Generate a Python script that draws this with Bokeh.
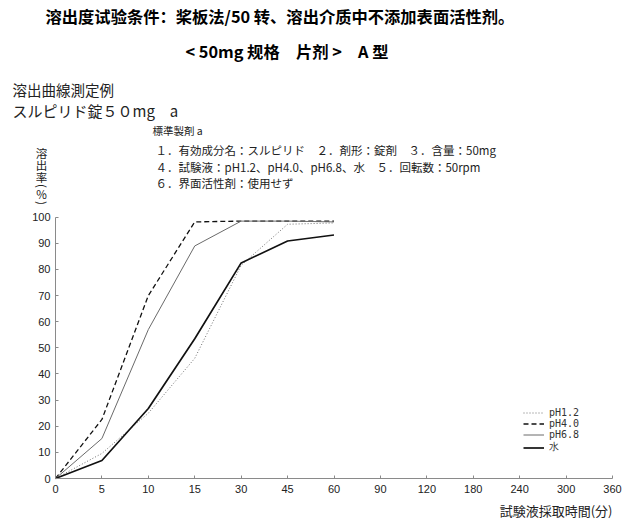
import math
from bokeh.plotting import figure
from bokeh.models import Range1d, FixedTicker, Label, Legend, LegendItem
from bokeh.embed import file_html
from bokeh.resources import INLINE

# ---- data ----
tick_times = [0, 5, 10, 15, 30, 45, 60, 90, 120, 180, 240, 300, 360]
times = [0, 5, 10, 15, 30, 45, 60]
ph12 = [0, 9.6, 25, 46, 81.6, 97.3, 97.8]
ph40 = [0, 22.6, 70, 98.2, 98.5, 98.5, 98.5]
ph68 = [0, 15.3, 57, 89, 98.5, 98.5, 98.2]
water = [0, 6.9, 26.8, 53.5, 82.5, 90.9, 93.2]
series_names = ["pH1.2", "pH4.0", "pH6.8", "水"]
y_ticks = [0, 10, 20, 30, 40, 50, 60, 70, 80, 90, 100]

xpos = [tick_times.index(t) for t in times]

W, H = 632, 524
AX_L, AX_R, AX_B, AX_T = 55.0, 612.0, 478.0, 216.7   # pixel positions of the axes box
nx = len(tick_times) - 1
xs = (AX_R - AX_L) / nx
ys = (AX_B - AX_T) / 100.0

p = figure(width=W, height=H, output_backend="svg", toolbar_location=None,
           x_range=Range1d(-AX_L / xs, (W - AX_L) / xs),
           y_range=Range1d(-(H - AX_B) / ys, AX_B / ys),
           min_border=0)
p.outline_line_color = None
p.xgrid.visible = False
p.ygrid.visible = False
p.background_fill_color = "white"
p.border_fill_color = "white"

p.xaxis.fixed_location = 0
p.yaxis.fixed_location = 0
p.xaxis.bounds = (0, nx)
p.yaxis.bounds = (0, 100)
p.xaxis.ticker = FixedTicker(ticks=list(range(nx + 1)))
p.xaxis.major_label_overrides = {i: str(t) for i, t in enumerate(tick_times)}
p.yaxis.ticker = FixedTicker(ticks=y_ticks)
for ax in (p.xaxis, p.yaxis):
    ax.axis_line_color = "#8a8a8a"
    ax.major_tick_line_color = "#8a8a8a"
    ax.major_tick_in = 3
    ax.major_tick_out = 0
    ax.minor_tick_line_color = None
    ax.major_label_text_font = "Liberation Sans"
    ax.major_label_text_font_size = "11px"
    ax.major_label_text_color = "#222222"
p.yaxis.major_label_standoff = 5
p.xaxis.major_label_standoff = 6

r1 = p.line(xpos, ph12, line_color="#707070", line_width=1, line_dash="1 2")
r2 = p.line(xpos, ph40, line_color="#111111", line_width=1.3, line_dash="5 3")
r3 = p.line(xpos, ph68, line_color="#6a6a6a", line_width=1)
r4 = p.line(xpos, water, line_color="#111111", line_width=1.7)

legend = Legend(items=[LegendItem(label=n, renderers=[r]) for n, r in zip(series_names, [r1, r2, r3, r4])],
                location=(523, H - 454), padding=0, margin=0, spacing=0,
                label_height=11, glyph_height=11, glyph_width=21, label_standoff=5,
                label_text_font="DejaVu Sans Mono", label_text_font_size="10px",
                label_text_color="#333333", label_text_line_height=1.0,
                background_fill_alpha=0, border_line_color=None)
p.add_layout(legend)

def lab(text, px, py, size, font="Noto Sans CJK JP", style="normal", align="left",
        color="#222222", angle=0.0):
    p.add_layout(Label(x=px, y=H - py, x_units="screen", y_units="screen", text=text,
                       text_font=font, text_font_size=size, text_font_style=style,
                       text_align=align, text_baseline="middle", text_color=color,
                       angle=angle))

lab("溶出度试验条件：桨板法/50 转、溶出介质中不添加表面活性剂。", 45, 15, "16.3px",
    font="Noto Sans CJK SC", style="bold", color="black")
lab("< 50mg 规格　片剂 >　A 型", 185, 50, "16.3px",
    font="Noto Sans CJK SC", style="bold", color="black")
lab("溶出曲線測定例", 12, 88.5, "14.5px")
lab("スルピリド錠５０mg　a", 12, 109.5, "15px")
lab("標準製剤 a", 152, 130, "10.5px")
lab("１．有効成分名：スルピリド　２．剤形：錠剤　３．含量：50mg", 155, 149.5, "11.5px")
lab("４．試験液：pH1.2、pH4.0、pH6.8、水　５．回転数：50rpm", 155, 166, "11.5px")
lab("６．界面活性剤：使用せず", 155, 182.5, "11.5px")

for ch, py, ang in zip(["溶", "出", "率", "(", "%", ")"],
                       [152, 164, 176, 185.5, 193.5, 202.5],
                       [0, 0, 0, -math.pi / 2, 0, -math.pi / 2]):
    lab(ch, 41, py, "11.5px", align="center", angle=ang)

lab("試験液採取時間(分)", 612, 510, "13px", align="right")

open("out.html", "w").write(file_html(p, INLINE))
